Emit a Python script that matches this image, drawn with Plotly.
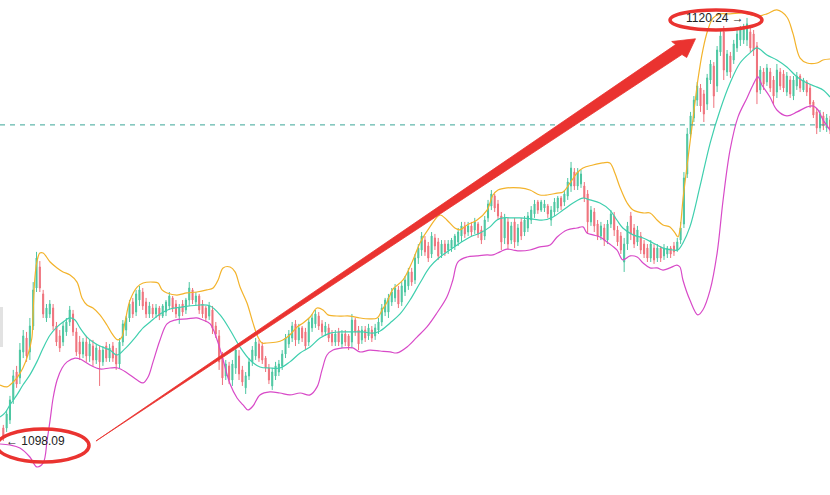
import plotly.graph_objects as go

# OHLC, one entry per bar (bar 0 is the left edge of the picture)
opens = [
    1098.77, 1098.77, 1099.19, 1100.24, 1101.70, 1101.39, 1102.75, 1103.48, 1102.75, 1104.11,
    1106.10, 1107.20, 1105.79, 1104.53, 1104.74, 1105.05, 1104.11, 1103.59, 1103.27, 1103.80,
    1104.32, 1104.74, 1103.80, 1103.27, 1102.64, 1103.27, 1102.54, 1103.06, 1102.33, 1102.85,
    1102.23, 1103.06, 1102.43, 1103.06, 1102.64, 1102.12, 1103.27, 1103.90, 1104.53, 1105.37,
    1104.84, 1105.47, 1105.89, 1105.37, 1104.74, 1105.05, 1104.74, 1105.05, 1104.63, 1104.84,
    1105.16, 1105.58, 1105.26, 1104.63, 1105.26, 1104.95, 1105.47, 1106.00, 1105.37, 1105.68,
    1105.26, 1105.05, 1104.63, 1104.95, 1104.11, 1103.59, 1102.43, 1101.49, 1102.02, 1101.28,
    1101.91, 1102.54, 1101.81, 1100.87, 1101.49, 1102.23, 1102.54, 1103.17, 1103.06, 1102.43,
    1101.91, 1100.97, 1101.49, 1101.70, 1102.02, 1102.64, 1103.17, 1103.48, 1104.22, 1103.38,
    1104.01, 1103.80, 1103.27, 1104.01, 1104.22, 1104.63, 1104.22, 1103.80, 1104.01, 1103.69,
    1103.27, 1103.80, 1103.17, 1103.69, 1103.59, 1103.27, 1104.42, 1103.90, 1103.38, 1103.90,
    1103.59, 1103.90, 1103.59, 1103.90, 1104.32, 1104.84, 1104.84, 1105.37, 1105.58, 1106.00,
    1105.37, 1105.89, 1106.21, 1106.94, 1106.52, 1107.67, 1108.09, 1108.61, 1108.30, 1107.88,
    1108.72, 1108.51, 1107.88, 1108.40, 1108.09, 1108.19, 1108.30, 1108.51, 1108.82, 1109.35,
    1109.03, 1109.35, 1109.14, 1109.45, 1109.14, 1108.82, 1109.77, 1110.39, 1110.92, 1110.50,
    1109.87, 1108.72, 1109.56, 1108.61, 1109.56, 1108.51, 1109.56, 1109.03, 1109.24, 1109.66,
    1109.98, 1110.60, 1110.18, 1110.29, 1110.39, 1109.66, 1110.08, 1110.29, 1110.81, 1110.60,
    1110.92, 1111.44, 1112.17, 1111.44, 1111.55, 1111.44, 1111.02, 1109.56, 1110.08, 1109.45,
    1108.82, 1109.24, 1108.61, 1109.45, 1109.87, 1109.14, 1108.82, 1107.46, 1108.40, 1109.87,
    1109.24, 1108.51, 1108.82, 1108.40, 1108.19, 1107.67, 1108.19, 1107.67, 1108.19, 1107.78,
    1107.88, 1108.19, 1108.30, 1108.09, 1108.61, 1109.45, 1112.07, 1114.16, 1115.00, 1115.94,
    1116.57, 1116.26, 1115.73, 1116.99, 1117.72, 1116.68, 1118.46, 1119.51, 1117.41, 1118.25,
    1118.04, 1118.67, 1119.09, 1119.09, 1119.09, 1119.51, 1119.40, 1118.77, 1116.47, 1117.41,
    1116.89, 1117.41, 1116.99, 1116.36, 1117.41, 1117.31, 1116.36, 1116.99, 1116.15, 1116.68,
    1117.20, 1116.47, 1116.89, 1116.57, 1115.84, 1115.32, 1114.48, 1115.11, 1114.48, 1114.90,
]
highs = [
    1098.93, 1099.71, 1100.45, 1101.81, 1102.02, 1103.22, 1103.90, 1103.80, 1104.53, 1106.41,
    1107.99, 1107.51, 1106.00, 1105.26, 1105.47, 1105.26, 1104.32, 1103.90, 1104.32, 1104.53,
    1105.16, 1104.95, 1104.01, 1103.59, 1103.48, 1103.59, 1103.38, 1103.38, 1103.17, 1103.06,
    1103.06, 1103.27, 1103.17, 1103.27, 1102.96, 1103.48, 1104.42, 1104.63, 1105.47, 1105.58,
    1106.00, 1106.21, 1106.10, 1105.58, 1105.37, 1105.26, 1105.26, 1105.16, 1105.26, 1105.47,
    1105.89, 1105.68, 1105.47, 1105.26, 1105.47, 1105.58, 1106.41, 1106.10, 1105.89, 1105.79,
    1105.47, 1105.16, 1105.37, 1105.16, 1104.32, 1103.90, 1102.75, 1102.33, 1102.23, 1102.33,
    1103.06, 1102.85, 1102.02, 1101.70, 1102.43, 1103.06, 1103.48, 1103.38, 1103.27, 1102.54,
    1102.12, 1101.91, 1102.23, 1102.33, 1102.85, 1103.69, 1103.90, 1104.32, 1104.42, 1104.22,
    1104.11, 1104.01, 1104.53, 1104.74, 1104.95, 1104.84, 1104.42, 1104.32, 1104.22, 1103.90,
    1103.90, 1104.01, 1103.90, 1103.90, 1103.69, 1104.74, 1104.53, 1104.11, 1104.11, 1104.11,
    1104.22, 1104.11, 1104.22, 1104.53, 1105.26, 1105.58, 1105.79, 1106.10, 1106.31, 1106.21,
    1106.41, 1106.73, 1107.15, 1107.15, 1107.88, 1108.40, 1109.03, 1108.82, 1108.51, 1109.03,
    1108.93, 1108.72, 1108.61, 1108.61, 1108.61, 1108.72, 1108.93, 1109.24, 1109.56, 1109.56,
    1109.56, 1109.56, 1109.77, 1109.56, 1109.35, 1109.87, 1110.71, 1111.23, 1111.02, 1110.71,
    1110.08, 1109.98, 1109.77, 1109.56, 1109.77, 1109.45, 1109.77, 1109.87, 1110.08, 1110.39,
    1110.71, 1110.71, 1110.71, 1110.71, 1110.50, 1110.39, 1110.81, 1110.92, 1110.92, 1111.23,
    1111.86, 1112.70, 1112.38, 1112.38, 1112.28, 1111.65, 1111.23, 1110.39, 1110.29, 1109.66,
    1109.56, 1109.45, 1109.66, 1110.18, 1110.08, 1109.35, 1109.03, 1108.72, 1109.56, 1110.08,
    1109.45, 1109.35, 1109.03, 1108.61, 1108.40, 1108.61, 1108.40, 1108.40, 1108.30, 1108.40,
    1108.30, 1108.30, 1108.51, 1108.72, 1109.56, 1112.17, 1114.48, 1115.32, 1116.15, 1116.89,
    1116.78, 1116.47, 1117.31, 1118.04, 1117.93, 1118.77, 1119.61, 1119.82, 1118.56, 1118.46,
    1119.09, 1119.61, 1119.82, 1119.93, 1120.24, 1119.72, 1119.61, 1118.98, 1117.72, 1117.62,
    1117.83, 1117.62, 1117.20, 1117.83, 1117.62, 1117.51, 1117.41, 1117.20, 1117.20, 1117.41,
    1117.31, 1117.10, 1116.99, 1116.78, 1115.94, 1115.53, 1115.42, 1115.32, 1115.21, 1115.11,
]
lows = [
    1098.09, 1098.56, 1098.98, 1100.03, 1100.87, 1101.07, 1102.43, 1102.23, 1102.33, 1103.90,
    1105.89, 1105.89, 1104.53, 1104.32, 1104.53, 1103.90, 1103.06, 1102.75, 1103.06, 1103.59,
    1104.11, 1103.59, 1102.54, 1102.33, 1102.43, 1102.23, 1102.23, 1102.02, 1102.12, 1100.97,
    1102.02, 1102.23, 1102.23, 1102.23, 1101.81, 1101.91, 1103.06, 1103.59, 1104.32, 1104.53,
    1104.63, 1105.16, 1104.95, 1104.53, 1104.53, 1104.53, 1104.53, 1104.42, 1104.53, 1104.63,
    1104.95, 1104.84, 1104.53, 1104.22, 1104.63, 1104.74, 1105.16, 1105.26, 1105.16, 1104.74,
    1104.53, 1104.32, 1104.42, 1103.69, 1103.48, 1101.81, 1101.02, 1101.28, 1101.07, 1100.97,
    1101.60, 1101.28, 1100.97, 1100.55, 1101.28, 1102.02, 1102.33, 1102.23, 1102.12, 1101.70,
    1101.07, 1100.76, 1101.28, 1101.49, 1101.81, 1102.43, 1102.96, 1103.27, 1103.06, 1103.17,
    1103.27, 1102.85, 1103.06, 1103.80, 1104.01, 1103.90, 1103.59, 1103.59, 1103.27, 1103.06,
    1103.06, 1103.06, 1102.96, 1103.06, 1102.85, 1102.96, 1103.59, 1102.85, 1103.17, 1103.27,
    1103.38, 1103.27, 1103.38, 1103.69, 1104.11, 1104.63, 1104.53, 1105.16, 1105.37, 1105.05,
    1105.16, 1105.68, 1106.00, 1106.21, 1106.31, 1107.36, 1107.78, 1107.78, 1107.46, 1107.67,
    1108.09, 1107.57, 1107.67, 1107.78, 1107.88, 1107.99, 1108.09, 1108.30, 1108.51, 1108.72,
    1108.82, 1108.82, 1108.93, 1108.72, 1108.40, 1108.61, 1109.56, 1110.18, 1110.08, 1109.66,
    1108.09, 1108.40, 1108.09, 1108.40, 1108.19, 1108.30, 1108.61, 1108.82, 1109.03, 1109.45,
    1109.77, 1109.98, 1110.08, 1110.08, 1109.77, 1109.35, 1109.87, 1110.08, 1110.18, 1110.39,
    1110.71, 1111.13, 1111.23, 1111.23, 1111.34, 1110.60, 1108.93, 1109.35, 1109.03, 1108.61,
    1108.61, 1108.30, 1108.40, 1109.24, 1108.82, 1108.30, 1107.88, 1106.94, 1108.09, 1108.61,
    1108.19, 1108.30, 1107.88, 1107.67, 1107.46, 1107.46, 1107.36, 1107.46, 1107.46, 1107.57,
    1107.67, 1107.67, 1107.78, 1107.99, 1108.40, 1109.24, 1111.86, 1113.95, 1114.79, 1115.63,
    1115.32, 1114.79, 1115.42, 1116.78, 1115.53, 1116.36, 1118.25, 1116.99, 1117.20, 1117.10,
    1117.83, 1118.46, 1118.77, 1118.88, 1118.77, 1118.46, 1118.25, 1115.73, 1116.26, 1116.47,
    1116.68, 1116.36, 1115.73, 1116.05, 1116.47, 1116.36, 1116.15, 1116.05, 1115.94, 1116.47,
    1116.36, 1116.36, 1116.15, 1115.53, 1115.00, 1114.16, 1114.27, 1114.37, 1114.27, 1114.16,
]
closes = [
    1098.30, 1099.50, 1100.24, 1101.50, 1101.07, 1102.85, 1103.59, 1102.54, 1104.11, 1106.00,
    1107.67, 1106.10, 1104.74, 1105.05, 1105.26, 1104.11, 1103.27, 1102.96, 1104.11, 1104.32,
    1104.95, 1103.80, 1102.75, 1102.64, 1103.27, 1102.54, 1103.17, 1102.33, 1102.96, 1102.23,
    1102.85, 1102.43, 1102.96, 1102.43, 1102.12, 1103.27, 1104.22, 1104.53, 1105.26, 1104.74,
    1105.79, 1106.00, 1105.16, 1104.74, 1105.16, 1104.74, 1105.05, 1104.63, 1105.16, 1105.37,
    1105.68, 1105.05, 1104.74, 1105.05, 1104.84, 1105.47, 1106.10, 1105.47, 1105.68, 1104.95,
    1104.74, 1104.53, 1105.16, 1103.99, 1103.69, 1102.23, 1101.39, 1102.12, 1101.28, 1102.12,
    1102.85, 1101.60, 1101.18, 1101.50, 1102.23, 1102.85, 1103.27, 1102.43, 1102.33, 1101.91,
    1101.28, 1101.70, 1102.02, 1102.12, 1102.64, 1103.48, 1103.69, 1104.11, 1103.38, 1104.01,
    1103.48, 1103.06, 1104.32, 1104.53, 1104.74, 1104.11, 1103.80, 1104.11, 1103.48, 1103.27,
    1103.69, 1103.27, 1103.69, 1103.27, 1103.06, 1104.42, 1103.80, 1103.17, 1103.90, 1103.48,
    1104.01, 1103.48, 1104.01, 1104.32, 1105.05, 1105.47, 1105.58, 1105.89, 1106.10, 1105.26,
    1106.21, 1106.52, 1106.94, 1106.41, 1107.67, 1108.19, 1108.82, 1107.99, 1107.67, 1108.82,
    1108.30, 1107.78, 1108.40, 1107.99, 1108.40, 1108.61, 1108.82, 1109.03, 1109.35, 1108.93,
    1109.35, 1109.03, 1109.56, 1108.93, 1108.61, 1109.66, 1110.50, 1111.02, 1110.29, 1109.87,
    1108.51, 1109.77, 1108.40, 1109.35, 1108.51, 1109.24, 1108.82, 1109.66, 1109.87, 1110.18,
    1110.50, 1110.18, 1110.60, 1110.50, 1109.98, 1110.18, 1110.60, 1110.81, 1110.39, 1111.02,
    1111.65, 1112.38, 1111.44, 1112.17, 1112.07, 1110.81, 1109.56, 1110.18, 1109.35, 1108.82,
    1109.35, 1108.61, 1109.45, 1109.98, 1109.14, 1108.51, 1108.09, 1108.40, 1109.35, 1108.93,
    1108.40, 1109.14, 1108.09, 1107.88, 1107.67, 1108.40, 1107.57, 1108.19, 1107.67, 1108.19,
    1108.19, 1107.88, 1107.99, 1108.51, 1109.24, 1111.86, 1114.16, 1115.11, 1115.94, 1116.68,
    1115.63, 1115.21, 1117.10, 1117.83, 1116.15, 1118.56, 1119.30, 1117.51, 1118.35, 1117.41,
    1118.88, 1119.40, 1119.72, 1119.72, 1119.93, 1118.67, 1118.56, 1116.36, 1117.51, 1116.78,
    1117.62, 1116.57, 1116.15, 1117.51, 1116.68, 1116.57, 1117.20, 1116.26, 1116.99, 1117.20,
    1116.57, 1116.99, 1116.36, 1115.73, 1115.16, 1114.48, 1115.21, 1114.58, 1115.00, 1114.37,
]
bars = list(range(len(closes)))

# Bollinger bands (bar position, price)
upper_x = [-1, 1.1, 2, 4.1, 5.9, 7.4, 8.6, 8.9, 9.5, 10.1, 11, 12, 14.1, 16.2, 18, 20.1, 22.2, 23.7,
           25.2, 27, 29.1, 31.2, 33, 34.5, 35.7, 36.6, 38.2, 40.3, 42.1, 45.1, 46.6, 47.8, 49.3,
           52.3, 55.3, 58.3, 61.3, 63.2, 64.7, 66.2, 68.3, 69.8, 71.3, 73.4, 75.2, 76.7, 77.9,
           79.4, 82.4, 84.2, 86.3, 88.5, 90.3, 92.4, 94.5, 96.3, 97.8, 101.4, 104.4, 107.4, 110.4,
           112.6, 114.1, 115.6, 117.4, 120.4, 123.4, 125.5, 128.5, 131.5, 133.6, 136, 137.5, 139.7,
           142.7, 145.7, 147.5, 149, 151.7, 155.6, 158.6, 161.6, 163.8, 166.8, 168.6, 170.7, 172.8,
           174.6, 177.6, 180.6, 182.7, 184.2, 185.7, 187.9, 189.7, 192.7, 194.8, 196.9, 198.7,
           200.8, 202.3, 203.2, 203.8, 204.7, 205.9, 207.7, 209.2, 210.7, 212.2, 213.8, 215.9,
           218.9, 222.8, 227, 230, 233, 236, 237.8, 240, 242.1, 245.1, 246.9, 249]
upper_y = [1101.02, 1100.92, 1101.02, 1101.39, 1101.91, 1102.59, 1103.48, 1104.53, 1106.62, 1107.46,
           1107.93, 1107.93, 1107.46, 1107.15, 1106.94, 1106.78, 1106.41, 1105.58, 1105.21, 1105.05,
           1104.69, 1104.16, 1103.64, 1103.38, 1103.53, 1104.27, 1105.47, 1106.15, 1106.36, 1106.41,
           1106.36, 1106.00, 1105.84, 1105.73, 1105.84, 1105.89, 1106.00, 1106.10, 1106.52, 1107.15,
           1107.20, 1106.94, 1106.15, 1105.31, 1104.27, 1103.53, 1103.22, 1103.22, 1103.27, 1103.38,
           1103.64, 1104.06, 1104.27, 1104.58, 1105.05, 1104.95, 1104.69, 1104.63, 1104.63, 1104.53,
           1104.48, 1104.53, 1104.95, 1105.37, 1106.05, 1106.52, 1107.57, 1108.46, 1109.30, 1109.92,
           1109.66, 1109.24, 1109.14, 1109.40, 1109.66, 1110.18, 1110.97, 1111.23, 1111.34, 1111.34,
           1111.23, 1110.97, 1110.97, 1111.07, 1111.13, 1111.60, 1112.12, 1112.38, 1112.54, 1112.65,
           1112.65, 1112.12, 1111.39, 1110.55, 1110.18, 1110.03, 1110.03, 1109.66, 1109.40, 1109.30,
           1108.98, 1108.77, 1109.14, 1110.71, 1112.44, 1114.90, 1116.99, 1118.56, 1119.61, 1120.24,
           1120.45, 1120.45, 1120.50, 1120.34, 1120.45, 1120.66, 1120.29, 1119.45, 1118.14, 1117.88,
           1117.88, 1118.04, 1118.09]
mid_x = [-1, 0.5, 2, 4.1, 5.9, 8, 10.1, 12, 14.1, 16.2, 18, 20.1, 21.6, 23.1, 25.2, 27, 29.1, 32.1,
         34.2, 36.6, 39.1, 42.1, 44.2, 47.2, 50.2, 54.1, 59.2, 62.3, 65.3, 68.3, 71.3, 74.3, 77.3,
         80.3, 83.3, 86.3, 89.4, 92.4, 95.4, 98.4, 101.4, 105.3, 108.3, 111.3, 113.5, 116.5, 119.5,
         122.5, 125.5, 128.5, 131.5, 134.5, 137.6, 140.6, 143.6, 146.6, 148.7, 150.5, 153.5, 155.6,
         159.5, 162.6, 165.6, 168.6, 171.6, 174.6, 176.7, 179.7, 182.7, 184.8, 186.6, 189.7, 192.7,
         195.7, 198.7, 201.7, 203.2, 204.7, 206.8, 209.8, 212.9, 215.9, 218.9, 221.9, 224.9, 227,
         230, 233, 236, 239.1, 242.1, 245.1, 246.9, 249]
mid_y = [1099.35, 1099.56, 1099.98, 1100.50, 1101.02, 1101.55, 1102.23, 1102.96, 1103.64, 1104.06,
         1104.32, 1104.53, 1104.42, 1104.01, 1103.53, 1103.27, 1103.06, 1102.85, 1102.59, 1102.91,
         1103.38, 1104.01, 1104.32, 1104.74, 1105.00, 1105.11, 1105.21, 1105.16, 1104.69, 1103.90,
         1103.01, 1102.33, 1101.96, 1101.91, 1101.91, 1102.23, 1102.70, 1103.01, 1103.48, 1103.74,
         1103.80, 1103.80, 1103.80, 1103.74, 1103.85, 1104.27, 1104.74, 1105.47, 1106.36, 1107.20,
         1107.72, 1108.09, 1108.46, 1108.77, 1108.98, 1109.30, 1109.66, 1109.77, 1109.77, 1109.77,
         1109.71, 1109.66, 1109.82, 1110.18, 1110.55, 1110.81, 1110.71, 1110.55, 1110.18, 1109.66,
         1109.24, 1108.88, 1108.72, 1108.46, 1108.19, 1108.09, 1108.09, 1108.46, 1109.30, 1111.39,
         1113.69, 1115.42, 1116.83, 1117.88, 1118.41, 1118.67, 1118.30, 1118.04, 1117.67, 1117.15,
         1116.83, 1116.62, 1116.47, 1116.10]
lower_x = [-1, 2, 5, 8, 10.1, 12, 13.2, 14.1, 15, 16.2, 17.7, 19.2, 21.6, 23.1, 26.1, 29.1, 32.1,
           34.5, 37.3, 40.3, 42.1, 43.6, 45.1, 47.2, 49.3, 51.7, 55.3, 58.3, 60.1, 62.3, 64.4, 66.2,
           68.3, 70.4, 72.2, 73.7, 75.2, 77.3, 80.3, 83.3, 86.3, 89.4, 92.4, 94.5, 96, 97.5, 99.3,
           102.3, 105.3, 107.4, 110.4, 113.5, 116.5, 118.6, 121.6, 124.6, 127.6, 130.6, 133.6,
           135.4, 136.9, 139.7, 142.7, 145.7, 147.5, 149.6, 151.7, 153.5, 155.6, 158.6, 161.6,
           164.7, 166.8, 169.8, 172.8, 174.6, 175.8, 177.6, 179.7, 181.8, 184.8, 186.6, 188.8,
           190.9, 192.7, 194.8, 196.9, 198.7, 200.8, 202.9, 203.8, 204.7, 206.8, 209.2, 210.7,
           212.9, 215, 216.8, 218.9, 221.3, 224, 225.8, 227.3, 228.5, 230.9, 233, 236, 239.1,
           242.1, 243.9, 245.4, 246.9, 249]
lower_y = [1097.93, 1097.88, 1097.72, 1097.25, 1096.73, 1096.94, 1098.14, 1099.19, 1100.34, 1101.28,
           1101.91, 1102.23, 1102.43, 1102.38, 1102.07, 1101.86, 1101.91, 1101.91, 1101.65, 1101.28,
           1101.13, 1101.44, 1102.23, 1103.38, 1104.22, 1104.42, 1104.48, 1104.53, 1104.42, 1104.22,
           1103.38, 1102.33, 1101.07, 1100.34, 1099.98, 1099.71, 1099.92, 1100.50, 1100.66, 1100.60,
           1100.50, 1100.60, 1100.50, 1100.92, 1101.81, 1102.59, 1102.85, 1102.96, 1102.96, 1102.75,
           1102.85, 1102.80, 1102.75, 1102.70, 1103.01, 1103.53, 1104.06, 1104.79, 1105.63, 1106.52,
           1107.46, 1107.72, 1107.78, 1107.83, 1107.83, 1107.99, 1108.14, 1108.09, 1108.04, 1108.09,
           1108.25, 1108.35, 1108.77, 1109.14, 1109.24, 1109.30, 1108.98, 1108.88, 1108.77, 1108.51,
           1108.09, 1107.57, 1107.78, 1107.72, 1107.41, 1107.15, 1107.15, 1107.04, 1107.15, 1107.30,
           1107.20, 1106.52, 1105.47, 1104.69, 1104.95, 1106.00, 1107.93, 1110.71, 1113.33, 1115.06,
           1116.05, 1116.73, 1117.15, 1116.73, 1116.10, 1115.42, 1115.11, 1115.32, 1115.58, 1115.63,
           1115.42, 1114.90, 1114.37]

last_price = 1114.64

GREEN = "#4cc6a1"
RED = "#ef717b"
UP_BAND = "#f3b32b"
MID_BAND = "#3fcfae"
LOW_BAND = "#d84ac8"
MARK_RED = "#ea3330"

W, H = 830, 495


def px(x):
    return x / W


def py(y):
    return 1 - y / H


fig = go.Figure()

fig.add_trace(go.Scatter(x=upper_x, y=upper_y, mode="lines", line=dict(color=UP_BAND, width=1.2, shape="spline"),
                         hoverinfo="skip"))
fig.add_trace(go.Scatter(x=mid_x, y=mid_y, mode="lines", line=dict(color=MID_BAND, width=1.2, shape="spline"),
                         hoverinfo="skip"))
fig.add_trace(go.Scatter(x=lower_x, y=lower_y, mode="lines", line=dict(color=LOW_BAND, width=1.2, shape="spline"),
                         hoverinfo="skip"))

fig.add_trace(go.Candlestick(
    x=bars, open=opens, high=highs, low=lows, close=closes,
    increasing=dict(line=dict(color=GREEN, width=1), fillcolor=GREEN),
    decreasing=dict(line=dict(color=RED, width=1), fillcolor=RED),
    whiskerwidth=0,
))

# dashed price line
fig.add_shape(type="line", xref="paper", x0=0, x1=1, yref="y", y0=last_price, y1=last_price,
              line=dict(color="#3aa597", width=1, dash="5px,5px"))

# small grey handle on the left edge
fig.add_shape(type="rect", xref="paper", yref="paper", x0=0, x1=px(3), y0=py(347), y1=py(307),
              fillcolor="#e2e2e2", line=dict(width=0))

# tapered red arrow (pixel geometry)
arrow_pts = [(96, 441), (682.0, 54.5), (686.7, 57.5), (695.5, 38.8), (671.7, 41.5), (675.6, 44.6)]
path = "M " + " L ".join(f"{px(x):.5f},{py(y):.5f}" for x, y in arrow_pts) + " Z"
fig.add_shape(type="path", xref="paper", yref="paper", path=path,
              fillcolor=MARK_RED, line=dict(color=MARK_RED, width=0.8))

# ellipses round the two extremes
fig.add_shape(type="circle", xref="paper", yref="paper", x0=px(-3), x1=px(89), y0=py(462), y1=py(429),
              line=dict(color=MARK_RED, width=3.5))
fig.add_shape(type="circle", xref="paper", yref="paper", x0=px(670), x1=px(762), y0=py(30), y1=py(10),
              line=dict(color=MARK_RED, width=3.5))

lo = min(lows)
hi = max(highs)
lo_i = lows.index(lo)
hi_i = highs.index(hi)
fig.add_annotation(x=lo_i, y=lo, text=f"\u2190 {lo:.2f}", showarrow=False, xanchor="left", xshift=1,
                   font=dict(size=12, color="#222222", family="Liberation Sans, Arial"))
fig.add_annotation(x=hi_i, y=hi, text=f"{hi:.2f} \u2192", showarrow=False, xanchor="right", xshift=-1,
                   font=dict(size=12, color="#222222", family="Liberation Sans, Arial"))

fig.update_layout(
    width=W, height=H,
    margin=dict(l=0, r=0, t=0, b=0),
    paper_bgcolor="white", plot_bgcolor="white",
    showlegend=False,
    boxgap=0.55,
    xaxis=dict(range=[-1, 249], visible=False, rangeslider=dict(visible=False), fixedrange=True),
    yaxis=dict(range=[1095.26, 1121.18], visible=False, fixedrange=True),
)

# the page body has a default margin; drop it so the figure fills the window
fig.write_html("out.html", config={"displayModeBar": False},
               post_script="document.body.style.margin='0px';")
